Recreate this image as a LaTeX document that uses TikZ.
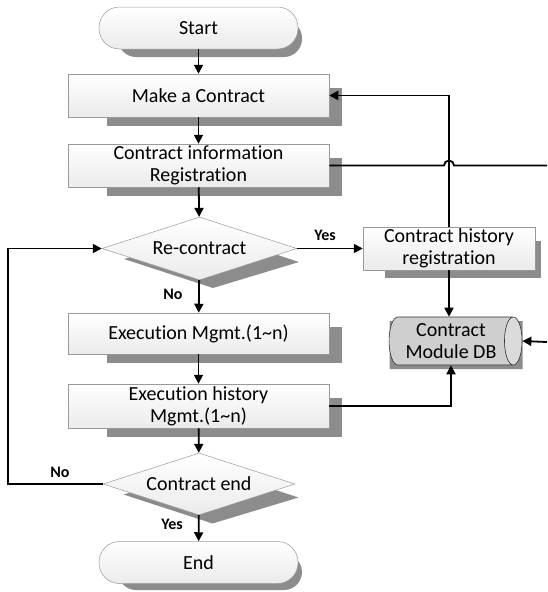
\documentclass[tikz,border=0pt]{standalone}
\usepackage{fontspec}
\setmainfont{Carlito}[Ligatures={NoCommon}]
\usetikzlibrary{shapes.geometric,arrows.meta,calc,backgrounds}
\begin{document}
\begin{tikzpicture}[x=1pt,y=1pt,
  txt/.style={font=\fontsize{20}{22}\selectfont, align=center, inner sep=0pt},
  box/.style={txt, draw=gray!80, line width=0.5pt, top color=white, bottom color=gray!16,
    minimum width=261pt, minimum height=43pt},
  stadium/.style={box, minimum width=199pt, minimum height=42pt, rounded corners=20.5pt},
  dia/.style={txt, shape=diamond, draw=gray!80, line width=0.5pt, top color=white, bottom color=gray!16,
    aspect=3, minimum width=195pt, minimum height=63pt},
  dbstyle/.style={txt, shape=cylinder, draw=gray!40!black, line width=0.6pt, aspect=0.5,
    minimum width=48pt, minimum height=133pt, cylinder uses custom fill,
    cylinder body fill=gray!38, cylinder end fill=gray!28},
  shd/.style={fill=black!45},
  conn/.style={line width=1.8pt, -{Triangle[length=9pt,width=9pt]}},
  plain/.style={line width=1.8pt},
  lbl/.style={font=\fontsize{16}{18}\selectfont\bfseries, inner sep=0pt}
]
\useasboundingbox (0,0) rectangle (547,-592);

% nodes
\node[stadium] (start) at (198.5,-28) {Start};
\node[box] (make) at (198.5,-95.5) {Make a Contract};
\node[box] (info) at (198.5,-165.5) {Contract information\\Registration};
\node[dia] (rec) at (199.5,-248.5) {Re-contract};
\node[box, minimum height=41pt] (exec) at (198.5,-333.5) {Execution Mgmt.(1\textasciitilde n)};
\node[box, minimum height=44pt] (exh) at (198.5,-406) {Execution history\\Mgmt.(1\textasciitilde n)};
\node[dia, minimum width=192pt, minimum height=62pt] (cend) at (199,-484) {Contract end};
\node[stadium] (end) at (198.5,-562.5) {End};
\node[box, minimum width=172pt] (hist) at (449,-248.5) {Contract history\\registration};
\node[dbstyle] (db) at (451,-341) {Contract\\Module DB};

% shadows
\begin{pgfonlayer}{background}
  \fill[shd, rounded corners=18pt] (118,-20) rectangle (302,-57);
  \fill[shd, rounded corners=18pt] (118,-554) rectangle (302,-590);
  \foreach \n in {make,info,exec,exh}{
    \fill[shd] ([shift={(39pt,-14pt)}]\n.north west) rectangle ([shift={(13pt,-9pt)}]\n.south east);
  }
  \fill[shd] ([shift={(22pt,-14pt)}]hist.north west) rectangle ([shift={(6pt,-8pt)}]hist.south east);
  \foreach \n in {rec,cend}{
    \fill[shd] ($(\n.center)+(-75.5pt,-10.5pt)$) -- ($(\n.center)+(13.5pt,14.5pt)$)
      -- ($(\n.center)+(99.5pt,-13.5pt)$) -- ($(\n.center)+(13.5pt,-39.5pt)$) -- cycle;
  }
  \node[shape=cylinder, aspect=0.5, minimum width=48pt, minimum height=133pt, inner sep=0pt,
    fill=black!45] (dbshd) at (456,-345) {};
\end{pgfonlayer}

% coordinates for free ends
\coordinate (lp) at (8,-484);
\coordinate (rt1) at (547,-165.5);
\coordinate (rt2) at (547,-342);

% connectors
\draw[conn] (start) -- (make);
\draw[conn] (make) -- (info);
\draw[conn] (info) -- (rec);
\draw[conn] (rec) -- (exec);
\draw[conn] (exec) -- (exh);
\draw[conn] (exh) -- (cend);
\draw[conn] (cend) -- (end);
\draw[conn] (cend.west) -- (cend.west -| lp) |- (rec.west);
\draw[conn] (rec.east) -- (hist.west);
\draw[conn] (hist.north) |- (make.east);
\draw[plain] (info.east) -- ($(info.east -| hist.north)+(-5pt,0)$)
  arc[start angle=180, end angle=0, radius=5pt] -- (info.east -| rt1);
\draw[conn] (hist.south) -- (hist.south |- db.north);
\draw[conn] (exh.east) -| (db.south);
\draw[conn] (rt2) -- (db.east);

% labels
\node[lbl] (lyes1) at (325,-235) {Yes};
\node[lbl] (lno1) at (173,-294) {No};
\node[lbl] (lno2) at (60,-472) {No};
\node[lbl] (lyes2) at (172,-524) {Yes};
\end{tikzpicture}
\end{document}
